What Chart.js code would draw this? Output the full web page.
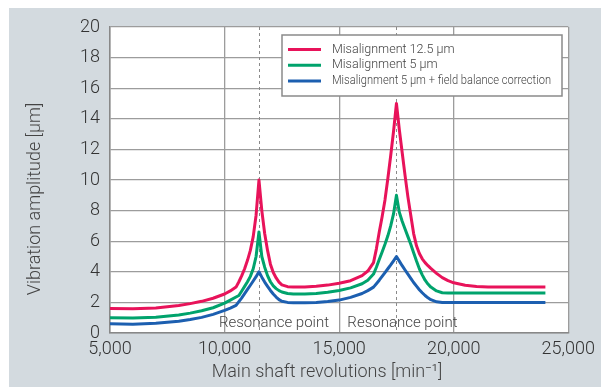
<!DOCTYPE html>
<html>
<head>
<meta charset="utf-8">
<script src="https://cdn.jsdelivr.net/npm/chart.js@4.4.1/dist/chart.umd.min.js"></script>
<style>
  html, body { margin: 0; padding: 0; background: #fff; }
  #wrap { width: 601px; height: 387px; }
</style>
</head>
<body>
<div id="wrap"><canvas id="mycanvas" width="601" height="387"></canvas></div>
<script>
// main shaft revolutions [min-1]
var rpm = [5000, 6000, 7000, 8000, 8500, 9000, 9500, 10000, 10250, 10500,
           10625, 10750, 10875, 11000, 11125, 11250, 11375, 11500,
           11625, 11750, 11875, 12000, 12125, 12250, 12375, 12500, 12750, 13000,
           13500, 14000, 14500, 15000, 15500, 16000, 16250, 16500,
           16625, 16750, 16875, 17000, 17125, 17250, 17375, 17500,
           17625, 17750, 17875, 18000, 18125, 18250, 18375, 18500, 18625, 18750, 18875, 19000,
           19250, 19500, 19750, 20000, 20500, 21000, 21500, 22000, 24000];

// vibration amplitude [um]
var mis125 = [1.6, 1.58, 1.64, 1.8, 1.92, 2.07, 2.27, 2.55, 2.75, 3.0,
              3.35, 3.75, 4.2, 4.75, 5.4, 6.3, 7.7, 10.0,
              8.0, 6.5, 5.4, 4.5, 3.95, 3.6, 3.33, 3.15, 3.03, 3.0,
              3.0, 3.05, 3.13, 3.25, 3.42, 3.75, 4.05, 4.6,
              5.5, 6.6, 7.6, 8.7, 10.1, 11.6, 13.2, 15.0,
              13.3, 11.8, 10.3, 8.9, 7.7, 6.5, 5.7, 5.2, 4.85, 4.6, 4.4, 4.22,
              3.9, 3.62, 3.42, 3.28, 3.12, 3.04, 3.0, 3.0, 3.0];
var mis5 = [1.0, 0.98, 1.03, 1.18, 1.3, 1.45, 1.65, 1.95, 2.15, 2.35,
            2.45, 2.75, 3.05, 3.35, 3.7, 4.2, 5.0, 6.6,
            5.0, 4.3, 3.75, 3.35, 3.08, 2.9, 2.77, 2.68, 2.58, 2.55,
            2.55, 2.58, 2.66, 2.78, 2.95, 3.22, 3.45, 3.85,
            4.3, 4.8, 5.3, 5.8, 6.35, 7.0, 7.8, 9.0,
            7.9, 7.3, 6.8, 6.3, 5.8, 5.25, 4.7, 4.2, 3.8, 3.45, 3.2, 3.0,
            2.75, 2.63, 2.62, 2.62, 2.62, 2.62, 2.62, 2.62, 2.62];
var mis5fb = [0.6, 0.58, 0.63, 0.77, 0.88, 1.02, 1.22, 1.48, 1.63, 1.8,
              2.05, 2.3, 2.57, 2.85, 3.12, 3.4, 3.68, 4.0,
              3.65, 3.33, 3.05, 2.78, 2.55, 2.35, 2.18, 2.07, 2.0, 1.98,
              1.97, 2.0, 2.06, 2.15, 2.33, 2.58, 2.77, 3.0,
              3.22, 3.45, 3.7, 3.95, 4.2, 4.45, 4.72, 5.0,
              4.7, 4.4, 4.12, 3.85, 3.57, 3.3, 3.06, 2.83, 2.63, 2.45, 2.3, 2.18,
              2.04, 2.0, 2.0, 2.0, 2.0, 2.0, 2.0, 2.0, 2.0];

var labels = ["Misalignment 12.5 \u00b5m", "Misalignment 5 \u00b5m", "Misalignment 5 \u00b5m + field balance correction"];
var colors = ["#e8135a", "#00a36c", "#1c5fb0"];
var resonance = [11500, 17500];
var resonanceLabel = "Resonance point";
var xTitle = "Main shaft revolutions [min\u207b\u00b9]";
var yTitle = "Vibration amplitude [\u00b5m]";

var FONT = "Roboto, 'Liberation Sans', sans-serif";

function pts(ys) {
	var out = [];
	for (var i in rpm) {
		out.push({x: rpm[i], y: ys[i]});
	}
	return out;
}

var series = [mis125, mis5, mis5fb];
var datasets = [];
for (var k = 0; k < series.length; k++) {
	datasets.push({
		label: labels[k],
		data: pts(series[k]),
		borderColor: colors[k],
		backgroundColor: colors[k],
		borderWidth: 3,
		borderJoinStyle: 'round',
		pointRadius: 0,
		tension: 0,
		fill: false
	});
}

// gray frame behind everything
var bgPlugin = {
	id: 'bg',
	beforeDraw: function(chart) {
		var c = chart.ctx;
		c.save();
		c.fillStyle = "#d3dadf";
		c.fillRect(9, 8, chart.width - 9, chart.height - 8);
		var a = chart.chartArea;
		c.fillStyle = "#ffffff";
		c.fillRect(a.left, a.top, a.right - a.left, a.bottom - a.top);
		c.restore();
	}
};

// resonance markers, axis titles, legend box
var extrasPlugin = {
	id: 'extras',
	beforeDatasetsDraw: function(chart) {
		var c = chart.ctx, a = chart.chartArea, xs = chart.scales.x;
		c.save();
		c.strokeStyle = "#8a8a8a";
		c.lineWidth = 1;
		c.setLineDash([3, 3]);
		for (var i = 0; i < resonance.length; i++) {
			var px = Math.round(xs.getPixelForValue(resonance[i])) + 0.5;
			c.beginPath();
			c.moveTo(px, a.top);
			c.lineTo(px, a.bottom);
			c.stroke();
		}
		c.setLineDash([]);
		c.fillStyle = "#444";
		c.font = "300 15px " + FONT;
		c.textAlign = "center";
		c.textBaseline = "middle";
		var offs = [15, 6];
		for (var j = 0; j < resonance.length; j++) {
			c.fillText(resonanceLabel, xs.getPixelForValue(resonance[j]) + offs[j], a.bottom - 10);
		}
		c.restore();
	},
	afterDraw: function(chart) {
		var c = chart.ctx;
		c.save();
		// axis titles
		c.fillStyle = "#444";
		c.font = "300 18px " + FONT;
		c.textAlign = "center";
		c.textBaseline = "middle";
		c.fillText(xTitle, 327, 372);
		c.translate(35, 199);
		c.rotate(-Math.PI / 2);
		c.fillText(yTitle, 0, 0);
		c.restore();

		// legend
		c.save();
		var lx = 282, ly = 35, lw = 280, lh = 61;
		c.fillStyle = "#fff";
		c.fillRect(lx, ly, lw, lh);
		c.strokeStyle = "#8a8a8a";
		c.lineWidth = 1.5;
		c.strokeRect(lx, ly, lw, lh);
		c.textAlign = "left";
		c.textBaseline = "middle";
		for (var i = 0; i < datasets.length; i++) {
			var y = 49.5 + i * 15.7;
			c.strokeStyle = datasets[i].borderColor;
			c.lineWidth = 3;
			c.beginPath();
			c.moveTo(288, y);
			c.lineTo(321, y);
			c.stroke();
			c.fillStyle = "#444";
			c.font = "300 12.5px " + FONT;
			c.fillText(datasets[i].label, 332, y, i == 2 ? 219 : 400);
		}
		c.restore();
	}
};

var ctx = document.getElementById("mycanvas");

var LineGraph = new Chart(ctx, {
	type: 'line',
	data: { datasets: datasets },
	plugins: [bgPlugin, extrasPlugin],
	options: {
		responsive: false,
		animation: false,
		devicePixelRatio: 1,
		layout: { padding: { left: 0, top: 27, right: 32, bottom: 0 } },
		plugins: {
			legend: { display: false },
			tooltip: { enabled: false }
		},
		scales: {
			x: {
				type: 'linear',
				min: 5000,
				max: 25000,
				afterFit: function(s) { s.height = 54; },
				ticks: {
					stepSize: 5000,
					padding: 6,
					color: "#333",
					font: { family: FONT, size: 18, weight: 300 },
					maxRotation: 0,
					callback: function(v) { return v.toLocaleString('en-US'); }
				},
				grid: { color: "#9c9c9c", lineWidth: 1.3, drawTicks: false },
				border: { color: "#888", width: 1.5 }
			},
			y: {
				min: 0,
				max: 20,
				afterFit: function(s) { s.width = 110; },
				ticks: {
					stepSize: 2,
					padding: 10,
					color: "#333",
					font: { family: FONT, size: 18, weight: 300 }
				},
				grid: { color: "#9c9c9c", lineWidth: 1.3, drawTicks: false },
				border: { color: "#888", width: 1.5 }
			}
		}
	}
});
</script>
</body>
</html>
